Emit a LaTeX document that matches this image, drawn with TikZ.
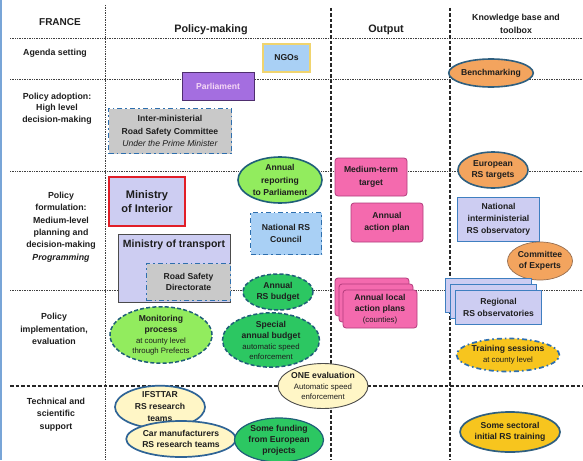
\documentclass[tikz,border=0pt]{standalone}
\usepackage{fontspec}
\setmainfont{Liberation Sans}
\usetikzlibrary{shapes.geometric}
\newcommand\smtxt{\mdseries\fontsize{7.8}{9.6}\selectfont}
\definecolor{txt}{HTML}{1E1E1E}
\definecolor{bdash}{HTML}{2E6FAE}
\definecolor{teal}{HTML}{1F5F78}
\definecolor{pinkf}{HTML}{F46AAE}
\definecolor{pinkd}{HTML}{B23C7C}
\definecolor{lime}{HTML}{92EC5E}
\definecolor{grn}{HTML}{2CC762}
\definecolor{orng}{HTML}{F3A45E}
\definecolor{gold}{HTML}{F7C51E}
\definecolor{cream}{HTML}{FFF6C6}
\definecolor{lav}{HTML}{CDCDF2}
\definecolor{gry}{HTML}{C9C9C9}
\definecolor{lblue}{HTML}{A9D0F5}
\definecolor{purp}{HTML}{A46EE0}
\definecolor{purpd}{HTML}{4E2E6E}
\definecolor{obox}{HTML}{3F7FC0}
\tikzset{
  gridline/.style={line width=0.9pt, black!75, dash pattern=on 0.9pt off 0.8pt},
  gridvdash/.style={line width=1.3pt, black!85, dash pattern=on 3.5pt off 2pt},
  fb/.style={font=\bfseries\fontsize{8.6}{11.2}\selectfont},
  lbl/.style={text=txt, align=center, fb, inner sep=0pt},
  rbox/.style={rectangle, align=center, text=txt, inner sep=1pt, fb},
  ell/.style={ellipse, align=center, text=txt, inner sep=0pt, fb},
  dd/.style={draw=bdash, line width=1.7pt, dash pattern=on 5pt off 3pt on 1.6pt off 3pt},
  tealsolid/.style={draw=teal, line width=1.6pt},
  tealdash/.style={draw=teal, line width=1.5pt, dash pattern=on 4pt off 2.2pt},
  pinkbox/.style={rbox, fill=pinkf, draw=pinkd, line width=0.8pt, rounded corners=3pt},
  obsbox/.style={rbox, fill=lav, draw=obox, line width=1.6pt},
  rowlbl/.style={lbl, font=\bfseries\fontsize{8.8}{12.3}\selectfont},
}
\begin{document}
\begin{tikzpicture}[x=1pt,y=-1pt]
\useasboundingbox (0,0) rectangle (583,460);
\fill[white] (0,0) rectangle (583,460);
\draw[line width=1.6pt, color={rgb,255:red,120;green,165;blue,215}] (0.8,0) -- (0.8,460);
% grid
\draw[gridline] (10,38) -- (583,38);
\draw[gridline] (10,79) -- (583,79);
\draw[gridline] (10,171) -- (583,171);
\draw[gridline] (10,290) -- (583,290);
\draw[gridvdash] (10,386) -- (583,386);
\draw[gridline] (105,5) -- (105,460);
\draw[gridvdash] (331,8) -- (331,460);
\draw[gridvdash] (450,8) -- (450,460);
% headers
\node[lbl, font=\bfseries\fontsize{10}{12}\selectfont] (hfr) at (60,22) {FRANCE};
\node[lbl, font=\bfseries\fontsize{10.8}{13}\selectfont] (hpm) at (211,30) {Policy-making};
\node[lbl, font=\bfseries\fontsize{10.8}{13}\selectfont] (hout) at (386,30) {Output};
\node[lbl, font=\bfseries\fontsize{8.8}{13}\selectfont] (hkb) at (516,24) {Knowledge base and\\toolbox};
% row labels
\node[rowlbl] (r1) at (55,53) {Agenda setting};
\node[rowlbl, font=\bfseries\fontsize{8.8}{11.6}\selectfont] (r2) at (57,108.5) {Policy adoption:\\High level\\decision-making};
\node[rowlbl] (r3) at (61,227) {Policy\\formulation:\\Medium-level\\planning and\\decision-making\\\textit{Programming}};
\node[rowlbl, font=\bfseries\fontsize{8.8}{12.8}\selectfont] (r4) at (54,329) {Policy\\implementation,\\evaluation};
\node[rowlbl, font=\bfseries\fontsize{8.8}{12.5}\selectfont] (r5) at (56,414.5) {Technical and\\scientific\\support};
% agenda / adoption
\node[rbox, fill=lblue, draw={rgb,255:red,240;green,212;blue,110}, line width=1.8pt, minimum width=47pt, minimum height=28pt] (ngo) at (286.5,58) {NGOs};
\node[rbox, fill=purp, draw=purpd, line width=0.9pt, text={rgb,255:red,245;green,215;blue,245}, minimum width=72pt, minimum height=28pt] (parl) at (218,86) {Parliament};
\node[rbox, fill=gry, dd, minimum width=123pt, minimum height=45pt, font=\bfseries\fontsize{8.6}{12.5}\selectfont] (imc) at (170,131) {Inter-ministerial\\Road Safety Committee\\\textit{\mdseries Under the Prime Minister}};
\node[ell, fill=orng, draw={rgb,255:red,47;green,95;blue,127}, line width=1.6pt, minimum width=72pt, minimum height=28pt] (bench) at (491,73) {Benchmarking};
% formulation
\node[ell, fill=lime, tealsolid, minimum width=84pt, minimum height=46pt, font=\bfseries\fontsize{8.6}{12.4}\selectfont] (arp) at (280,180) {Annual\\reporting\\to Parliament};
\node[rbox, fill=lav, draw={rgb,255:red,225;green,30;blue,40}, line width=2.2pt, minimum width=76pt, minimum height=49pt, font=\bfseries\fontsize{11}{13.5}\selectfont] (moi) at (147,201.5) {Ministry\\of Interior};
\node[rbox, fill=lav, draw=black!70, line width=0.9pt, minimum width=112pt, minimum height=68pt] (mot) at (174,268) {};
\node[lbl, font=\bfseries\fontsize{10.5}{12}\selectfont] (motl) at (174,245) {Ministry of transport};
\node[rbox, fill=gry, dd, minimum width=84pt, minimum height=37pt] (rsd) at (188.5,282) {Road Safety\\Directorate};
\node[rbox, fill=lblue, dd, minimum width=71pt, minimum height=42pt] (nrsc) at (286,233.5) {National RS\\Council};
\node[ell, fill=grn, tealdash, minimum width=70pt, minimum height=36pt] (arb) at (278,292) {Annual\\RS budget};
\node[pinkbox, minimum width=72pt, minimum height=38pt, font=\bfseries\fontsize{8.6}{12.5}\selectfont] (mtt) at (371,177) {Medium-term\\target};
\node[pinkbox, minimum width=72pt, minimum height=39pt, font=\bfseries\fontsize{8.6}{12.5}\selectfont] (aap) at (387,222.5) {Annual\\action plan};
\node[ell, fill=orng, draw={rgb,255:red,47;green,95;blue,127}, line width=1.6pt, minimum width=70pt, minimum height=36pt] (ert) at (493,170) {European\\RS targets};
\node[obsbox, minimum width=82pt, minimum height=44pt, font=\bfseries\fontsize{8.6}{12}\selectfont] (nio) at (498.5,219.5) {National\\interministerial\\RS observatory};
\node[ell, fill=orng, draw={rgb,255:red,150;green,110;blue,80}, line width=0.7pt, minimum width=65pt, minimum height=38pt] (coe) at (540,261) {Committee\\of Experts};
% implementation
\node[obsbox, minimum width=86pt, minimum height=34pt] (rso3) at (488.5,295.5) {};
\node[obsbox, minimum width=86pt, minimum height=34pt] (rso2) at (493.5,301.5) {};
\node[obsbox, minimum width=86pt, minimum height=34pt, font=\bfseries\fontsize{8.6}{12}\selectfont] (rso) at (498.5,307.5) {Regional\\RS observatories};
\node[pinkbox, minimum width=74pt, minimum height=38pt] (alap3) at (372,297) {};
\node[pinkbox, minimum width=74pt, minimum height=38pt] (alap2) at (376,303) {};
\node[pinkbox, minimum width=74pt, minimum height=38pt] (alap) at (380,309) {Annual local\\action plans\\{\smtxt (counties)}};
\node[ell, fill=lime, tealdash, minimum width=102pt, minimum height=54pt] (mp) at (161,335) {Monitoring\\process\\{\smtxt at county level}\\[-1.5pt]{\smtxt through Prefects}};
\node[ell, fill=grn, tealdash, minimum width=97pt, minimum height=54pt] (sab) at (271,340) {Special\\annual budget\\{\smtxt automatic speed}\\[-1.5pt]{\smtxt enforcement}};
\node[ell, fill=gold, dd, minimum width=100pt, minimum height=33pt] (ts) at (508,355) {Training sessions\\{\smtxt at county level}};
\node[ell, fill=cream, draw=black!70, line width=0.9pt, minimum width=89pt, minimum height=45pt] (one) at (323,386) {ONE evaluation\\{\smtxt Automatic speed}\\[-1.5pt]{\smtxt enforcement}};
% technical support
\node[ell, fill=cream, draw={rgb,255:red,47;green,100;blue,150}, line width=1.7pt, minimum width=90pt, minimum height=40pt, font=\bfseries\fontsize{8.6}{12}\selectfont] (ifs) at (160,407) {IFSTTAR\\RS research\\teams};
\node[ell, fill=cream, draw={rgb,255:red,47;green,100;blue,150}, line width=1.7pt, minimum width=98pt, minimum height=36pt] (car) at (181,439) {Car manufacturers\\RS research teams};
\node[ell, fill=grn, draw=teal, line width=1.2pt, minimum width=89pt, minimum height=44pt] (sf) at (279,440) {Some funding\\from European\\projects};
\node[ell, fill=gold, draw={rgb,255:red,47;green,95;blue,127}, line width=1.7pt, minimum width=96pt, minimum height=40pt] (ssi) at (510,432) {Some sectoral\\initial RS training};
\end{tikzpicture}
\end{document}
